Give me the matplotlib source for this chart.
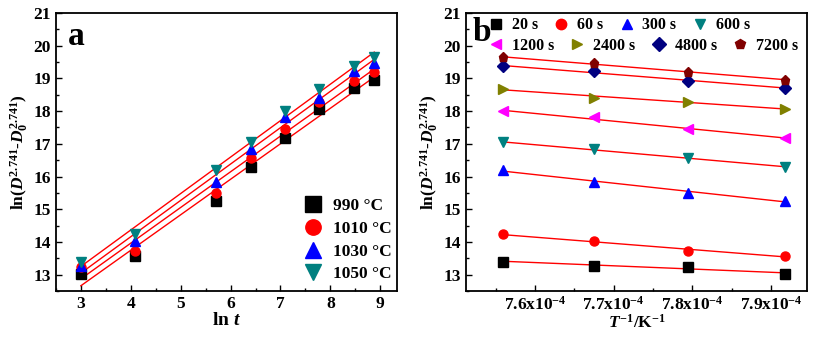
import matplotlib
matplotlib.use('Agg')
import matplotlib.pyplot as plt
from matplotlib.ticker import MultipleLocator, FuncFormatter
import numpy as np

plt.rcParams['font.family'] = ['Liberation Serif', 'DejaVu Serif']
plt.rcParams['font.weight'] = 'bold'
plt.rcParams['axes.labelweight'] = 'bold'
plt.rcParams['mathtext.fontset'] = 'custom'
plt.rcParams['mathtext.rm'] = 'Liberation Serif:bold'
plt.rcParams['mathtext.it'] = 'Liberation Serif:italic:bold'
plt.rcParams['mathtext.bf'] = 'Liberation Serif:bold'

# data
times_s = [20, 60, 300, 600, 1200, 2400, 4800, 7200]
ln_t = [3.00, 4.09, 5.70, 6.40, 7.09, 7.78, 8.48, 8.88]
temps_C = [990, 1010, 1030, 1050]
inv_T = [7.918e-4, 7.794e-4, 7.675e-4, 7.559e-4]

# ln(D^2.741 - D0^2.741), rows = temperature, columns = time
y_990 = [13.02, 13.57, 15.26, 16.29, 17.17, 18.07, 18.70, 18.96]
y_1010 = [13.24, 13.73, 15.51, 16.56, 17.45, 18.29, 18.93, 19.18]
y_1030 = [13.28, 14.02, 15.83, 16.84, 17.81, 18.39, 19.21, 19.47]
y_1050 = [13.40, 14.23, 16.20, 17.04, 17.99, 18.69, 19.37, 19.64]
y_all = np.array([y_990, y_1010, y_1030, y_1050])

temp_labels = ['990 °C', '1010 °C', '1030 °C', '1050 °C']
time_labels = ['20 s', '60 s', '300 s', '600 s', '1200 s', '2400 s', '4800 s', '7200 s']

temp_styles = [('s', 'black'), ('o', 'red'), ('^', 'blue'), ('v', '#008080')]
time_styles = [('s', 'black'), ('o', 'red'), ('^', 'blue'), ('v', '#008080'),
               ('<', '#FF00FF'), ('>', '#808000'), ('D', '#000080'), ('p', '#800000')]

fig = plt.figure(figsize=(8.23, 3.4), dpi=100)
ax1 = fig.add_axes([0.068, 0.144, 0.414, 0.818])
ax2 = fig.add_axes([0.566, 0.144, 0.415, 0.818])

ylab = r'ln($\mathit{D}^{2.741}$-$\mathit{D}_0^{2.741}$)'

# Panel a
x = np.array(ln_t)
for i in range(4):
    m, c = temp_styles[i]
    ax1.plot(x, y_all[i], linestyle='none', marker=m, color=c, markersize=6.5,
             label=temp_labels[i], zorder=3)
    k, b = np.polyfit(x, y_all[i], 1)
    ax1.plot([x[0], x[-1]], [k * x[0] + b, k * x[-1] + b], color='red', lw=1, zorder=2)

ax1.set_xlim(2.5, 9.33)
ax1.set_ylim(12.5, 21)
ax1.xaxis.set_major_locator(MultipleLocator(1))
ax1.xaxis.set_minor_locator(MultipleLocator(0.5))
ax1.yaxis.set_major_locator(MultipleLocator(1))
ax1.yaxis.set_minor_locator(MultipleLocator(0.5))
ax1.set_xlabel(r'ln $\mathit{t}$', fontsize=14, labelpad=0)
ax1.set_ylabel(ylab, fontsize=12.5, labelpad=2)
ax1.text(0.035, 0.97, 'a', transform=ax1.transAxes, fontsize=24, fontweight='bold',
         va='top', ha='left')
ax1.legend(loc='lower right', bbox_to_anchor=(1.012, 0.0), frameon=False, fontsize=12.5,
           markerscale=1.7, handlelength=1.2, handletextpad=0.6, labelspacing=0.38,
           borderaxespad=0.1)

# Panel b
T = np.array(inv_T)
handles = []
for j in range(8):
    m, c = time_styles[j]
    h, = ax2.plot(T, y_all[:, j], linestyle='none', marker=m, color=c, markersize=6.5,
                  label=time_labels[j], zorder=3)
    handles.append(h)
    k, b = np.polyfit(T, y_all[:, j], 1)
    ax2.plot([T.min(), T.max()], [k * T.min() + b, k * T.max() + b], color='red', lw=1, zorder=2)

ax2.set_xlim(7.512e-4, 7.946e-4)
ax2.set_ylim(12.5, 21)
ax2.xaxis.set_major_locator(MultipleLocator(1e-5))
ax2.xaxis.set_minor_locator(MultipleLocator(0.5e-5))
ax2.yaxis.set_major_locator(MultipleLocator(1))
ax2.yaxis.set_minor_locator(MultipleLocator(0.5))
ax2.xaxis.set_major_formatter(FuncFormatter(lambda v, p: '%.1fx10$^{-4}$' % (v * 1e4)))
ax2.set_xlabel(r'$\mathit{T}^{-1}$/K$^{-1}$', fontsize=12.5, labelpad=0)
ax2.set_ylabel(ylab, fontsize=12.5, labelpad=2)
ax2.text(0.02, 0.985, 'b', transform=ax2.transAxes, fontsize=24, fontweight='bold',
         va='top', ha='left')

leg_kw = dict(ncol=4, frameon=False, fontsize=11.5, markerscale=1.15, handlelength=1.0,
              handletextpad=0.5, columnspacing=0.95, borderaxespad=0, borderpad=0)
leg1 = ax2.legend(handles=handles[:4], loc='upper left', bbox_to_anchor=(0.065, 0.985), **leg_kw)
ax2.add_artist(leg1)
ax2.legend(handles=handles[4:], loc='upper left', bbox_to_anchor=(0.065, 0.91), **leg_kw)

for ax in (ax1, ax2):
    ax.tick_params(which='both', direction='in', top=False, right=False, labelsize=12.5)
    ax.tick_params(which='major', length=4, width=1)
    ax.tick_params(which='minor', length=2.5, width=1)
    for s in ax.spines.values():
        s.set_linewidth(1.3)
    for lab in ax.get_xticklabels() + ax.get_yticklabels():
        lab.set_fontweight('bold')

fig.savefig('out.png', dpi=100)
